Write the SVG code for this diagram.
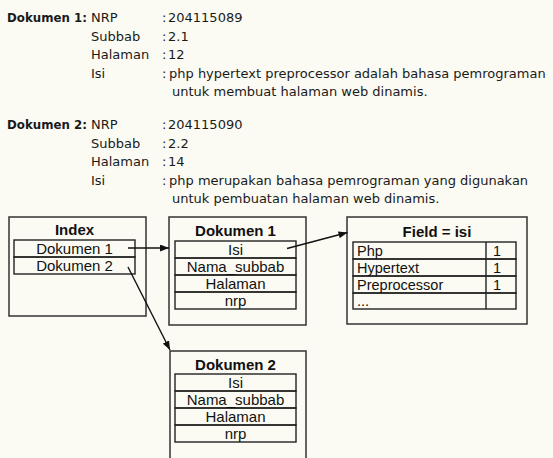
<svg xmlns="http://www.w3.org/2000/svg" width="553" height="458" viewBox="0 0 553 458">
  <defs>
    <style>
      .bg { fill: #fbfbf3; }
      .info { font-family: "DejaVu Sans", Verdana, sans-serif; font-size: 13px; fill: #1a1a1a; }
      .infob { font-family: "DejaVu Sans", Verdana, sans-serif; font-size: 11.8px; font-weight: bold; fill: #1a1a1a; }
      .box { fill: none; stroke: #333; stroke-width: 1.5; }
      .cell { fill: none; stroke: #222; stroke-width: 1.4; }
      .hdr { font-family: "Liberation Sans", Arial, sans-serif; font-size: 15px; font-weight: bold; fill: #111; text-anchor: middle; }
      .lbl { font-family: "Liberation Sans", Arial, sans-serif; font-size: 15px; fill: #111; text-anchor: middle; }
      .lbll { font-family: "Liberation Sans", Arial, sans-serif; font-size: 14.5px; fill: #111; }
      .conn { stroke: #111; stroke-width: 1.4; fill: none; }
    </style>
    <marker id="arrow" markerUnits="userSpaceOnUse" markerWidth="9" markerHeight="7" refX="9" refY="3.5" orient="auto">
      <path d="M0,0 L9,3.5 L0,7 z" fill="#111"/>
    </marker>
  </defs>
  <rect class="bg" x="0" y="0" width="553" height="458"/>

  <g id="info-dokumen1">
    <text class="infob" x="7" y="22">Dokumen 1:</text>
    <text class="info" x="91" y="22">NRP</text>
    <text class="info" x="91" y="40.5">Subbab</text>
    <text class="info" x="91" y="59">Halaman</text>
    <text class="info" x="91" y="77.5">Isi</text>
    <text class="info" x="162" y="22">:</text>
    <text class="info" x="162" y="40.5">:</text>
    <text class="info" x="162" y="59">:</text>
    <text class="info" x="162" y="77.5">:</text>
    <text class="info" x="168" y="22">204115089</text>
    <text class="info" x="168" y="40.5">2.1</text>
    <text class="info" x="168" y="59">12</text>
    <text class="info" x="169" y="77.5">php hypertext preprocessor adalah bahasa pemrograman</text>
    <text class="info" x="172" y="96">untuk membuat halaman web dinamis.</text>
  </g>

  <g id="info-dokumen2">
    <text class="infob" x="7" y="129">Dokumen 2:</text>
    <text class="info" x="91" y="129">NRP</text>
    <text class="info" x="91" y="147.5">Subbab</text>
    <text class="info" x="91" y="166">Halaman</text>
    <text class="info" x="91" y="184.5">Isi</text>
    <text class="info" x="162" y="129">:</text>
    <text class="info" x="162" y="147.5">:</text>
    <text class="info" x="162" y="166">:</text>
    <text class="info" x="162" y="184.5">:</text>
    <text class="info" x="168" y="129">204115090</text>
    <text class="info" x="168" y="147.5">2.2</text>
    <text class="info" x="168" y="166">14</text>
    <text class="info" x="169" y="184.5">php merupakan bahasa pemrograman yang digunakan</text>
    <text class="info" x="172" y="203">untuk pembuatan halaman web dinamis.</text>
  </g>

  <g id="index">
    <rect class="box" x="9" y="217" width="137" height="99"/>
    <text class="hdr" x="74.5" y="235">Index</text>
    <rect class="cell" x="14" y="240" width="121" height="17"/>
    <rect class="cell" x="14" y="257" width="121" height="17"/>
    <text class="lbl" x="74.5" y="254">Dokumen 1</text>
    <text class="lbl" x="74.5" y="271">Dokumen 2</text>
  </g>

  <g id="dokumen1">
    <rect class="box" x="169" y="217" width="137" height="108"/>
    <text class="hdr" x="235.5" y="236">Dokumen 1</text>
    <rect class="cell" x="175" y="241" width="121" height="17"/>
    <rect class="cell" x="175" y="258" width="121" height="17"/>
    <rect class="cell" x="175" y="275" width="121" height="17"/>
    <rect class="cell" x="175" y="292" width="121" height="17"/>
    <text class="lbl" x="235.5" y="255">Isi</text>
    <text class="lbl" x="235.5" y="272">Nama_subbab</text>
    <text class="lbl" x="235.5" y="289">Halaman</text>
    <text class="lbl" x="235.5" y="306">nrp</text>
  </g>

  <g id="field-isi">
    <rect class="box" x="347" y="217" width="180" height="107"/>
    <text class="hdr" x="437" y="237">Field = isi</text>
    <rect class="cell" x="353" y="242" width="163" height="17"/>
    <rect class="cell" x="353" y="259" width="163" height="17"/>
    <rect class="cell" x="353" y="276" width="163" height="17"/>
    <rect class="cell" x="353" y="293" width="163" height="16"/>
    <line class="cell" x1="486" y1="242" x2="486" y2="309"/>
    <text class="lbll" x="357" y="256">Php</text>
    <text class="lbll" x="357" y="273">Hypertext</text>
    <text class="lbll" x="357" y="290">Preprocessor</text>
    <text class="lbll" x="357" y="306">...</text>
    <text class="lbll" x="493" y="256">1</text>
    <text class="lbll" x="493" y="273">1</text>
    <text class="lbll" x="493" y="290">1</text>
  </g>

  <g id="dokumen2">
    <rect class="box" x="170" y="351" width="136" height="115"/>
    <text class="hdr" x="235.5" y="370">Dokumen 2</text>
    <rect class="cell" x="175" y="374" width="121" height="17"/>
    <rect class="cell" x="175" y="391" width="121" height="17"/>
    <rect class="cell" x="175" y="408" width="121" height="17"/>
    <rect class="cell" x="175" y="425" width="121" height="17"/>
    <text class="lbl" x="235.5" y="388">Isi</text>
    <text class="lbl" x="235.5" y="405">Nama_subbab</text>
    <text class="lbl" x="235.5" y="422">Halaman</text>
    <text class="lbl" x="235.5" y="439">nrp</text>
  </g>

  <g id="connectors">
    <line class="conn" x1="128" y1="248" x2="169" y2="248" marker-end="url(#arrow)"/>
    <line class="conn" x1="287" y1="248.5" x2="347.5" y2="232.5" marker-end="url(#arrow)"/>
    <line class="conn" x1="128" y1="267" x2="170" y2="350" marker-end="url(#arrow)"/>
  </g>
</svg>
